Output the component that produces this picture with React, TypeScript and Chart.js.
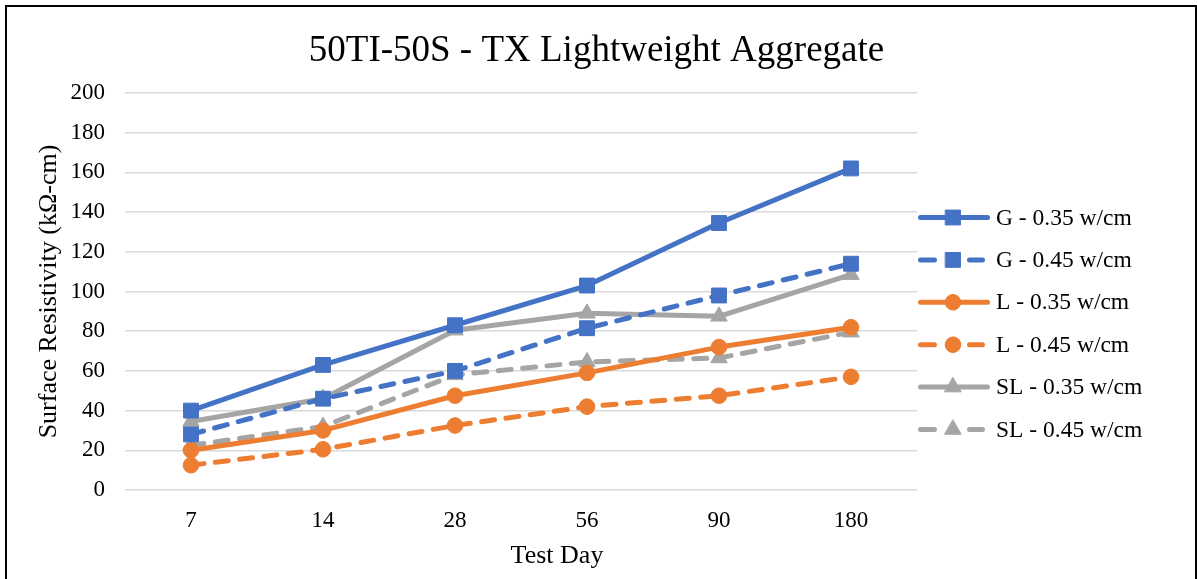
import React, { useEffect, useRef } from 'react';
import { Chart, registerables } from 'chart.js';

Chart.register(...registerables);

const FONT = "'Liberation Serif', 'Times New Roman', serif";

const chartTitle = '50TI-50S - TX Lightweight Aggregate';
const xAxisTitle = 'Test Day';
const yAxisTitle = 'Surface Resistivity (kΩ-cm)';

const testDays = ['7', '14', '28', '56', '90', '180'];

const g035 = [40, 63, 83, 103, 134.5, 162];
const g045 = [28, 46, 60, 81.5, 98, 114];
const l035 = [20, 30, 47.5, 59, 72, 82];
const l045 = [12.5, 20.5, 32.5, 42, 47.5, 57];
const sl035 = [34.5, 46, 80.5, 89, 87.5, 108.5];
const sl045 = [22.5, 32, 58, 64.5, 66.5, 79.5];

const seriesLabels = [
  'G - 0.35 w/cm',
  'G - 0.45 w/cm',
  'L - 0.35 w/cm',
  'L - 0.45 w/cm',
  'SL - 0.35 w/cm',
  'SL - 0.45 w/cm',
];

const BLUE = '#4472C4';
const ORANGE = '#ED7D31';
const GRAY = '#A5A5A5';
const DASH = [13, 11.5];

function drawMarker(ctx: CanvasRenderingContext2D, style: string, x: number, y: number, r: number, color: string) {
  ctx.save();
  ctx.fillStyle = color;
  ctx.strokeStyle = color;
  ctx.lineWidth = 1;
  ctx.setLineDash([]);
  ctx.beginPath();
  if (style === 'rect') {
    const s = r * Math.SQRT1_2;
    ctx.rect(x - s, y - s, 2 * s, 2 * s);
  } else if (style === 'triangle') {
    let a = 0;
    ctx.moveTo(x + Math.sin(a) * r, y - Math.cos(a) * r);
    a += (2 * Math.PI) / 3;
    ctx.lineTo(x + Math.sin(a) * r, y - Math.cos(a) * r);
    a += (2 * Math.PI) / 3;
    ctx.lineTo(x + Math.sin(a) * r, y - Math.cos(a) * r);
    ctx.closePath();
  } else {
    ctx.arc(x, y, r, 0, Math.PI * 2);
  }
  ctx.fill();
  ctx.stroke();
  ctx.restore();
}

// Draws the chart title, the x-axis title and the right-hand legend.
const decorations = {
  id: 'decorations',
  afterDraw(chart: any) {
    const ctx: CanvasRenderingContext2D = chart.ctx;
    const area = chart.chartArea;

    ctx.save();
    ctx.fillStyle = '#000';
    ctx.textAlign = 'center';
    ctx.textBaseline = 'middle';
    ctx.font = `37px ${FONT}`;
    ctx.fillText(chartTitle, chart.width / 2 - 2, area.top - 42);

    ctx.font = `26px ${FONT}`;
    ctx.textBaseline = 'alphabetic';
    ctx.fillText(xAxisTitle, (area.left + area.right) / 2 + 36, area.bottom + 73);
    ctx.restore();

    const x0 = area.right + 1;
    chart.data.datasets.forEach((ds: any, i: number) => {
      const y = area.top + 124.5 + i * 42.4;
      ctx.save();
      ctx.strokeStyle = ds.borderColor;
      ctx.lineWidth = ds.borderWidth;
      ctx.lineCap = 'round';
      ctx.beginPath();
      if (ds.borderDash && ds.borderDash.length) {
        ctx.moveTo(x0 + 2.5, y);
        ctx.lineTo(x0 + 16.5, y);
        ctx.moveTo(x0 + 51.5, y);
        ctx.lineTo(x0 + 64.5, y);
      } else {
        ctx.moveTo(x0 + 2.5, y);
        ctx.lineTo(x0 + 69.5, y);
      }
      ctx.stroke();
      drawMarker(ctx, ds.pointStyle, x0 + 35, y, ds.pointRadius, ds.borderColor);
      ctx.fillStyle = '#000';
      ctx.font = `23.5px ${FONT}`;
      ctx.textBaseline = 'middle';
      ctx.textAlign = 'left';
      ctx.fillText(ds.label, x0 + 78, y + 1);
      ctx.restore();
    });
  },
};

function makeSet(label: string, data: number[], color: string, dashed: boolean, style: string, radius: number) {
  return {
    label,
    data,
    borderColor: color,
    backgroundColor: color,
    borderWidth: 5,
    borderDash: dashed ? DASH : [],
    borderCapStyle: 'round' as const,
    borderJoinStyle: 'round' as const,
    pointStyle: style,
    pointRadius: radius,
    pointBorderWidth: 1,
    pointBackgroundColor: color,
    pointBorderColor: color,
    tension: 0,
    fill: false,
  };
}

export default function App() {
  const canvasRef = useRef<HTMLCanvasElement | null>(null);

  useEffect(() => {
    document.body.style.margin = '0';
    const canvas = canvasRef.current;
    if (!canvas) return;
    const chart = new Chart(canvas, {
      type: 'line',
      data: {
        labels: testDays,
        datasets: [
          makeSet(seriesLabels[0], g035, BLUE, false, 'rect', 10.5),
          makeSet(seriesLabels[1], g045, BLUE, true, 'rect', 10.5),
          makeSet(seriesLabels[2], l035, ORANGE, false, 'circle', 7.8),
          makeSet(seriesLabels[3], l045, ORANGE, true, 'circle', 7.8),
          makeSet(seriesLabels[4], sl035, GRAY, false, 'triangle', 9.5),
          makeSet(seriesLabels[5], sl045, GRAY, true, 'triangle', 9.5),
        ] as any,
      },
      options: {
        animation: false,
        responsive: false,
        maintainAspectRatio: false,
        devicePixelRatio: 1,
        layout: { padding: { left: 0, right: 280, top: 93, bottom: 0 } },
        plugins: {
          legend: { display: false },
          tooltip: { enabled: false },
          title: { display: false },
        },
        scales: {
          x: {
            type: 'category',
            offset: true,
            grid: { display: false, drawTicks: false },
            border: { display: false },
            ticks: {
              color: '#000',
              font: { family: FONT, size: 23 },
              padding: 17,
              maxRotation: 0,
            },
            afterFit(scale: any) {
              scale.height = 89;
            },
          },
          y: {
            min: 0,
            max: 200,
            grid: { color: '#D9D9D9', lineWidth: 1.5, drawTicks: false },
            border: { display: false },
            ticks: {
              stepSize: 20,
              color: '#000',
              font: { family: FONT, size: 23 },
              padding: 20,
            },
            title: {
              display: true,
              text: yAxisTitle,
              color: '#000',
              font: { family: FONT, size: 26 },
              padding: { top: 34, bottom: 0 },
            },
            afterFit(scale: any) {
              scale.width = 125;
            },
          },
        },
      },
      plugins: [decorations],
    });
    return () => chart.destroy();
  }, []);

  return (
    <div style={{ position: 'relative', width: 1197, height: 579, overflow: 'hidden', background: '#fff' }}>
      <canvas ref={canvasRef} width={1197} height={579} style={{ position: 'absolute', left: 0, top: 0 }} />
      <div
        style={{
          position: 'absolute',
          left: 5,
          top: 5,
          width: 1192,
          height: 700,
          border: '2px solid #000',
          boxSizing: 'border-box',
          pointerEvents: 'none',
        }}
      />
    </div>
  );
}
